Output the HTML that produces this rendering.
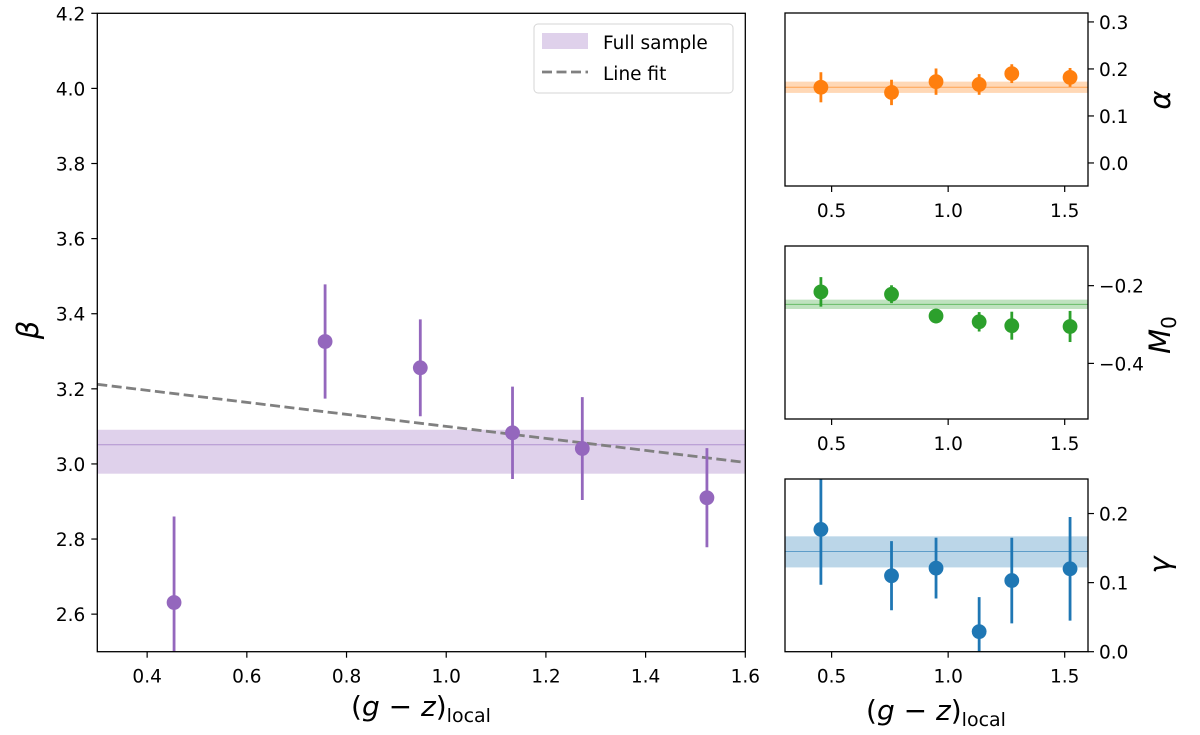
<!DOCTYPE html>
<html><head><meta charset="utf-8">
<style>
html,body{margin:0;padding:0;background:#fff;}
svg text{font-family:"DejaVu Sans","Liberation Sans",sans-serif;fill:#000;}
</style></head>
<body>
<svg id="fig" width="1200" height="730" viewBox="0 0 1200 730" xmlns="http://www.w3.org/2000/svg"></svg>
<script>
// ---- data ----
const xBins = [0.454, 0.757, 0.948, 1.133, 1.273, 1.523];
const betaVals = [2.631, 3.326, 3.256, 3.083, 3.041, 2.910];
const betaErrs = [0.229, 0.152, 0.129, 0.123, 0.137, 0.132];
const betaBand = [2.974, 3.051, 3.091];
const lineFit = [3.212, -0.16]; // value at x=0.3, slope
const alphaVals = [0.161, 0.150, 0.173, 0.167, 0.190, 0.182];
const alphaErrs = [0.032, 0.027, 0.028, 0.022, 0.020, 0.020];
const alphaBand = [0.149, 0.161, 0.173];
const m0Vals = [-0.216, -0.222, -0.278, -0.293, -0.303, -0.305];
const m0Errs = [0.038, 0.023, 0.019, 0.025, 0.036, 0.040];
const m0Band = [-0.260, -0.248, -0.236];
const gammaVals = [0.177, 0.110, 0.121, 0.029, 0.103, 0.120];
const gammaErrs = [0.080, 0.050, 0.044, 0.050, 0.062, 0.075];
const gammaBand = [0.122, 0.145, 0.167];
const mainXTicks = [0.4, 0.6, 0.8, 1.0, 1.2, 1.4, 1.6];
const mainYTicks = [2.6, 2.8, 3.0, 3.2, 3.4, 3.6, 3.8, 4.0, 4.2];
const sideXTicks = [0.5, 1.0, 1.5];
const alphaTicks = [0.0, 0.1, 0.2, 0.3];
const m0Ticks = [-0.4, -0.2];
const gammaTicks = [0.0, 0.1, 0.2];

const NS = "http://www.w3.org/2000/svg";
const svg = document.getElementById('fig');
function el(tag, attrs, parent) {
  const e = document.createElementNS(NS, tag);
  for (const k in attrs) e.setAttribute(k, attrs[k]);
  (parent || svg).appendChild(e);
  return e;
}
function fmt(v){ return (v<0?'\u2212':'') + Math.abs(v).toFixed(1); }
const FS = 18.5;

function panel(cfg) {
  const g = el('g', {});
  
  
  const sx = v => cfg.l + (v - cfg.x0) / (cfg.x1 - cfg.x0) * (cfg.r - cfg.l);
  const sy = v => cfg.b - (v - cfg.y0) / (cfg.y1 - cfg.y0) * (cfg.b - cfg.t);
  const clipId = 'clip-' + cfg.name;
  const cp = el('clipPath', {id: clipId}, g);
  el('rect', {x: cfg.l, y: cfg.t, width: cfg.r - cfg.l, height: cfg.b - cfg.t}, cp);
  const inner = el('g', {'clip-path': 'url(#' + clipId + ')'}, g);
  const band = el('rect', {x: cfg.l, y: sy(cfg.band[2]), width: cfg.r - cfg.l, height: sy(cfg.band[0]) - sy(cfg.band[2]), fill: cfg.color, 'fill-opacity': 0.3}, inner);
  
  
  const bl = el('line', {x1: cfg.l, x2: cfg.r, y1: sy(cfg.band[1]), y2: sy(cfg.band[1]), stroke: cfg.color, 'stroke-width': 1, 'stroke-opacity': 0.6}, inner);
  
  
  if (cfg.fit) {
    const f = cfg.fit;
    const fl = el('line', {x1: sx(cfg.x0), y1: sy(f[0] + f[1] * (cfg.x0 - 0.3)), x2: sx(cfg.x1), y2: sy(f[0] + f[1] * (cfg.x1 - 0.3)), stroke: '#808080', 'stroke-width': 2.8, 'stroke-dasharray': '10,4.5'}, inner);
    
    
  }
  for (let i = 0; i < xBins.length; i++) {
    const v = cfg.vals[i], e = cfg.errs[i];
    const eb = el('line', {x1: sx(xBins[i]), x2: sx(xBins[i]), y1: sy(v - e), y2: sy(v + e), stroke: cfg.color, 'stroke-width': 2.8}, inner);
    
    
    const pt = el('circle', {cx: sx(xBins[i]), cy: sy(v), r: 7.4, fill: cfg.color}, inner);
    
    
  }
  el('rect', {x: cfg.l, y: cfg.t, width: cfg.r - cfg.l, height: cfg.b - cfg.t, fill: 'none', stroke: '#000', 'stroke-width': 1.3}, g);
  for (const t of cfg.xt) {
    const x = sx(t);
    el('line', {x1: x, x2: x, y1: cfg.b, y2: cfg.b + 6, stroke: '#000', 'stroke-width': 1.2}, g);
    const tx = el('text', {x: x, y: cfg.b + 31, 'text-anchor': 'middle', 'font-size': FS}, g);
    tx.textContent = t.toFixed(1);
    
    
  }
  for (const t of cfg.yt) {
    const y = sy(t);
    if (cfg.right) {
      el('line', {x1: cfg.r, x2: cfg.r + 6, y1: y, y2: y, stroke: '#000', 'stroke-width': 1.2}, g);
      const ty = el('text', {x: cfg.r + 11, y: y + 7, 'text-anchor': 'start', 'font-size': FS}, g);
      ty.textContent = fmt(t);
      
      
    } else {
      el('line', {x1: cfg.l - 6, x2: cfg.l, y1: y, y2: y, stroke: '#000', 'stroke-width': 1.2}, g);
      const ty = el('text', {x: cfg.l - 12, y: y + 7, 'text-anchor': 'end', 'font-size': FS}, g);
      ty.textContent = fmt(t);
      
      
    }
  }
  return {g, sx, sy};
}

panel({name: 'beta-panel', l: 97.3, r: 745.3, t: 13.3, b: 651.7, x0: 0.3, x1: 1.6, y0: 2.5, y1: 4.2,
  vals: betaVals, errs: betaErrs, band: betaBand, fit: lineFit, color: '#9467bd', xt: mainXTicks, yt: mainYTicks});
panel({name: 'alpha-panel', l: 785, r: 1088, t: 13, b: 186, x0: 0.3, x1: 1.6, y0: -0.049, y1: 0.319,
  vals: alphaVals, errs: alphaErrs, band: alphaBand, color: '#ff7f0e', xt: sideXTicks, yt: alphaTicks, right: true});
panel({name: 'm0-panel', l: 785, r: 1088, t: 246, b: 419, x0: 0.3, x1: 1.6, y0: -0.543, y1: -0.098,
  vals: m0Vals, errs: m0Errs, band: m0Band, color: '#2ca02c', xt: sideXTicks, yt: m0Ticks, right: true});
panel({name: 'gamma-panel', l: 785, r: 1088, t: 479, b: 651.7, x0: 0.3, x1: 1.6, y0: 0, y1: 0.25,
  vals: gammaVals, errs: gammaErrs, band: gammaBand, color: '#1f77b4', xt: sideXTicks, yt: gammaTicks, right: true});

// legend
const lg = el('g', {});


el('rect', {x: 534, y: 24, width: 199, height: 69, rx: 4, fill: '#fff', 'fill-opacity': 0.8, stroke: '#d6d6d6', 'stroke-width': 1}, lg);
el('rect', {x: 542, y: 33, width: 46, height: 16, fill: '#9467bd', 'fill-opacity': 0.3}, lg);
const t1 = el('text', {x: 603, y: 49, 'font-size': FS}, lg); t1.textContent = 'Full sample';


el('line', {x1: 542, x2: 588, y1: 72, y2: 72, stroke: '#808080', 'stroke-width': 2.8, 'stroke-dasharray': '10,4.5'}, lg);
const t2 = el('text', {x: 603, y: 80, 'font-size': FS}, lg); t2.textContent = 'Line fit';



// axis titles
function xTitle(cx, y, name) {
  const t = el('text', {x: cx, y: y, 'text-anchor': 'middle', 'font-size': 28});
  t.innerHTML = '(<tspan font-style="italic">g</tspan> \u2212 <tspan font-style="italic">z</tspan>)<tspan font-size="19" dy="6">local</tspan>';
  
  
}
xTitle(421, 716, 'main-x-axis-title');
xTitle(936, 720, 'side-x-axis-title');
function yTitle(x, y, html, name) {
  const t = el('text', {x: x, y: y, 'text-anchor': 'middle', 'font-size': 29, 'font-style': 'italic', transform: 'rotate(-90 ' + x + ' ' + y + ')'});
  t.innerHTML = html;
  
  
}
yTitle(38, 330, '\u03b2', 'beta-axis-title');
yTitle(1170, 100, '\u03b1', 'alpha-axis-title');
yTitle(1170, 335, 'M<tspan font-size="20" dy="6" font-style="normal">0</tspan>', 'm0-axis-title');
yTitle(1170, 565, '\u03b3', 'gamma-axis-title');
</script>
</body></html>
